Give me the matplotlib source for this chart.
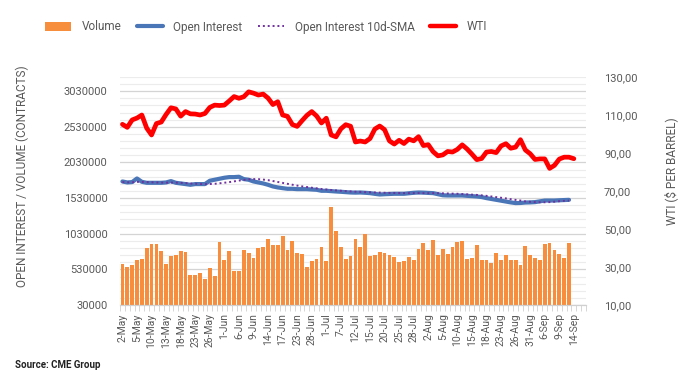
# libraries ----------------------
import matplotlib
matplotlib.use('Agg')
import matplotlib.pyplot as plt
from matplotlib.ticker import FixedLocator, FuncFormatter
from matplotlib.patches import Patch
from matplotlib.lines import Line2D

# data ---------------------------
tick_labels = ['2-May', '5-May', '10-May', '13-May', '18-May', '23-May', '26-May',
               '1-Jun', '6-Jun', '9-Jun', '14-Jun', '17-Jun', '23-Jun', '28-Jun',
               '1-Jul', '7-Jul', '12-Jul', '15-Jul', '20-Jul', '25-Jul', '28-Jul',
               '2-Aug', '5-Aug', '10-Aug', '15-Aug', '18-Aug', '23-Aug', '26-Aug',
               '31-Aug', '6-Sep', '9-Sep', '14-Sep']

volume = [612, 565, 593, 664, 679, 835, 892, 892, 792, 608,
          721, 735, 792, 778, 451, 451, 480, 395, 551, 437,
          920, 664, 792, 508, 508, 806, 764, 693, 835, 849,
          963, 878, 878, 1005, 806, 934, 764, 750, 565, 650,
          679, 849, 650, 1403, 1062, 849, 679, 721, 963, 849,
          1024, 721, 735, 778, 764, 735, 707, 636, 650, 707,
          664, 821, 906, 806, 949, 735, 821, 750, 849, 920,
          934, 679, 693, 878, 664, 664, 622, 764, 664, 735,
          664, 664, 593, 863, 735, 693, 664, 892, 906, 806,
          750, 693, 906]

open_interest = [1764, 1750, 1755, 1806, 1759, 1745, 1745, 1745, 1745, 1750,
                 1769, 1745, 1736, 1727, 1717, 1727, 1727, 1727, 1774, 1788,
                 1802, 1816, 1825, 1825, 1830, 1797, 1788, 1764, 1750, 1736,
                 1717, 1694, 1680, 1670, 1661, 1661, 1656, 1656, 1656, 1651,
                 1647, 1633, 1633, 1628, 1623, 1619, 1614, 1609, 1607, 1609,
                 1605, 1600, 1590, 1581, 1585, 1588, 1591, 1591, 1591, 1598,
                 1605, 1609, 1607, 1603, 1600, 1585, 1570, 1567, 1567, 1567,
                 1567, 1562, 1558, 1553, 1545, 1530, 1518, 1506, 1494, 1482,
                 1470, 1460, 1462, 1468, 1470, 1474, 1485, 1496, 1496, 1496,
                 1500, 1503, 1506]

oi_sma = [1755, 1752, 1752, 1758, 1758, 1755, 1752, 1750, 1748, 1747,
          1748, 1748, 1745, 1740, 1735, 1732, 1728, 1727, 1728, 1731,
          1738, 1746, 1755, 1765, 1776, 1786, 1793, 1797, 1796, 1790,
          1782, 1770, 1757, 1744, 1731, 1718, 1706, 1695, 1686, 1676,
          1667, 1658, 1651, 1644, 1638, 1633, 1628, 1624, 1620, 1617,
          1614, 1611, 1609, 1607, 1605, 1603, 1602, 1601, 1600, 1600,
          1600, 1600, 1600, 1600, 1600, 1599, 1597, 1595, 1593, 1591,
          1587, 1583, 1579, 1575, 1569, 1562, 1553, 1544, 1535, 1526,
          1515, 1505, 1496, 1484, 1478, 1474, 1472, 1472, 1474, 1480,
          1487, 1492, 1496]

wti = [105.1, 103.5, 107.4, 108.4, 110.0, 103.1, 99.5, 105.5, 106.3, 110.3,
       113.8, 113.2, 109.4, 111.8, 110.6, 110.5, 110.0, 110.8, 114.0, 115.2,
       115.0, 115.2, 117.4, 119.7, 118.8, 119.6, 122.2, 121.5, 120.5, 121.0,
       118.9, 115.5, 117.0, 110.0, 109.3, 105.0, 104.0, 107.0, 109.8, 111.8,
       109.5, 105.8, 108.3, 99.5, 98.5, 102.7, 104.9, 104.1, 95.8, 96.3,
       95.8, 97.6, 102.6, 104.2, 102.3, 96.4, 94.7, 96.7, 95.0, 97.3,
       96.4, 98.6, 93.9, 94.4, 90.7, 88.5, 89.0, 90.8, 90.5, 91.9,
       94.3, 92.1, 89.4, 86.5, 87.1, 90.5, 90.8, 90.2, 93.7, 94.9,
       92.5, 93.1, 97.0, 91.6, 89.6, 86.6, 86.9, 86.9, 81.9, 83.5,
       86.8, 87.8, 87.8, 87.0]

# styling ------------------------
text_color = '#595959'
orange = '#F68E3E'
blue = '#4A76B8'
purple = '#7030A0'
red = '#FF0000'
n_slots = 96

plt.rcParams['font.family'] = ['Roboto', 'DejaVu Sans']

fig = plt.figure(figsize=(6.99, 3.82), dpi=100)
ax = fig.add_axes([120/699, 77/382, 466/699, 228/382])
ax2 = ax.twinx()

x_vol = range(len(volume))
ax.bar(x_vol, [v * 1000 for v in volume], width=0.78, color=orange, zorder=2)
ax.plot(range(len(open_interest)), [v * 1000 for v in open_interest],
        color=blue, lw=3, solid_capstyle='round', zorder=3)
ax.plot(range(len(oi_sma)), [v * 1000 for v in oi_sma],
        color=purple, lw=1.4, ls=(0, (1, 1.5)), zorder=4)
ax2.plot(range(len(wti)), wti, color=red, lw=3.4, solid_capstyle='round')

# left axis
ax.set_xlim(-0.5, n_slots - 0.5)
ax.set_ylim(30000, 3230000)
ax.yaxis.set_major_locator(FixedLocator([30000 + 500000 * i for i in range(7)]))
ax.yaxis.set_minor_locator(FixedLocator([30000 + 100000 * i for i in range(33)]))
ax.grid(axis='y', which='minor', color='#ececec', lw=0.8)
ax.grid(axis='y', which='major', color='#d4d4d4', lw=0.9)
ax.set_axisbelow(True)
ax.tick_params(axis='y', which='both', length=0, labelsize=8,
               labelcolor=text_color, pad=9)
ax.yaxis.set_major_formatter(FuncFormatter(lambda v, p: f'{int(round(v))}'))
ax.set_ylabel('OPEN INTEREST / VOLUME (CONTRACTS)', fontsize=8.5,
              color=text_color)
ax.yaxis.set_label_coords(-0.195, 0.566)

# right axis
ax2.set_ylim(10, 130)
ax2.yaxis.set_major_locator(FixedLocator([10 + 20 * i for i in range(7)]))
ax2.yaxis.set_major_formatter(FuncFormatter(lambda v, p: f'{v:.2f}'.replace('.', ',')))
ax2.tick_params(axis='y', length=0, labelsize=8, labelcolor=text_color, pad=13)
ax2.set_ylabel('WTI ($ PER BARREL)', fontsize=8.5, color=text_color)
ax2.yaxis.set_label_coords(1.167, 0.588)

# x axis
ax.set_xticks(range(0, len(wti), 3))
ax.set_xticklabels(tick_labels, rotation=90, fontsize=7.5, color=text_color)
ax.set_xticks([i - 0.5 for i in range(n_slots + 1)], minor=True)
ax.tick_params(axis='x', which='major', length=0, pad=6)
ax.tick_params(axis='x', which='minor', length=4, color='#d0d0d0')

for a in (ax, ax2):
    for side in ('top', 'left', 'right'):
        a.spines[side].set_visible(False)
    a.spines['bottom'].set_color('#d0d0d0')

# legend
handles = [
    Patch(facecolor=orange, edgecolor='none'),
    Line2D([], [], color=blue, lw=3, solid_capstyle='round'),
    Line2D([], [], color=purple, lw=1.4, ls=(0, (1, 1.5))),
    Line2D([], [], color=red, lw=3.2, solid_capstyle='round'),
]
fig.legend(handles, ['Volume', 'Open Interest', 'Open Interest 10d-SMA', 'WTI'],
           loc='center', bbox_to_anchor=(266/699, 1 - 27/382), ncol=4,
           frameon=False, fontsize=8.5, labelcolor=text_color,
           handlelength=2.2, handleheight=0.8, handletextpad=0.9,
           columnspacing=1.3)

fig.text(15/699, 1 - 365/382, 'Source: CME Group', fontsize=7, fontweight='bold',
         color='#222222', va='center')

fig.savefig('out.png', dpi=100)
